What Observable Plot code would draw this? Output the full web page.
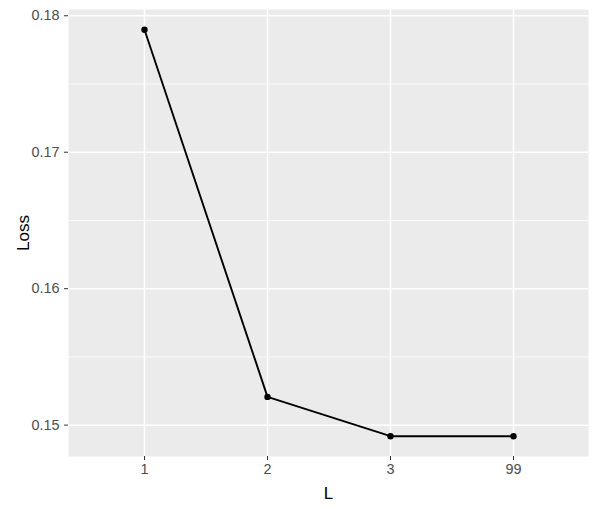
<!DOCTYPE html>
<html><head><meta charset="utf-8">
<script src="https://cdn.jsdelivr.net/npm/d3@7"></script>
<script src="https://cdn.jsdelivr.net/npm/@observablehq/plot@0.6"></script>
<style>
body{margin:0;background:#fff;}
</style>
</head><body><div id="chart"></div>
<script>
const categories = ["1","2","3","99"];
const loss = [0.17897, 0.15207, 0.14919, 0.14919];
const yTicks = [0.15, 0.16, 0.17, 0.18];
const yMinor = [0.155, 0.165, 0.175];

const data = categories.map((c,i)=>({L:c, Loss:loss[i]}));
const lo = d3.min(loss), hi = d3.max(loss), pad = (hi-lo)*0.05;

const chart = Plot.plot({
  width: 598, height: 509,
  marginLeft: 68, marginRight: 10, marginTop: 9, marginBottom: 53,
  style: {background:"#fff", overflow:"visible", fontFamily:"'Liberation Sans', Arial, Helvetica, sans-serif"},
  x: {type:"point", domain: categories, padding: 0.6, label: "L"},
  y: {domain:[lo-pad, hi+pad], label: "Loss"},
  marks: [
    Plot.frame({fill:"#EBEBEB", stroke:null}),
    Plot.ruleY(yMinor, {stroke:"#fff", strokeWidth:0.75}),
    Plot.ruleY(yTicks, {stroke:"#fff", strokeWidth:1.5}),
    Plot.ruleX(categories, {stroke:"#fff", strokeWidth:1.5}),
    Plot.axisY({ticks: yTicks, tickFormat: d3.format(".2f"), tickSize: 4, tickPadding: 5, stroke:"#333", color:"#4D4D4D", label:"Loss", labelAnchor:"center", labelArrow:false, labelOffset: 52}),
    Plot.axisX({ticks: categories, tickSize: 4, tickPadding: 3, stroke:"#333", color:"#4D4D4D", label:"L", labelAnchor:"center", labelArrow:false, labelOffset: 42}),
    Plot.line(data, {x:"L", y:"Loss", stroke:"#000", strokeWidth:1.9}),
    Plot.dot(data, {x:"L", y:"Loss", r:3.2, fill:"#000", stroke:null})
  ]
});
const s = d3.select(chart);
s.selectAll("g[aria-label$='tick label']").attr("font-size", 14.4).style("font-size","14.4px").selectAll("text").style("font-size","14.4px").attr("fill","#4D4D4D");
s.selectAll("g[aria-label$='axis label']").attr("font-size", 17).style("font-size","17px").selectAll("text").style("font-size","17px").attr("fill","#000");
document.getElementById("chart").appendChild(chart);
</script>
</body></html>
